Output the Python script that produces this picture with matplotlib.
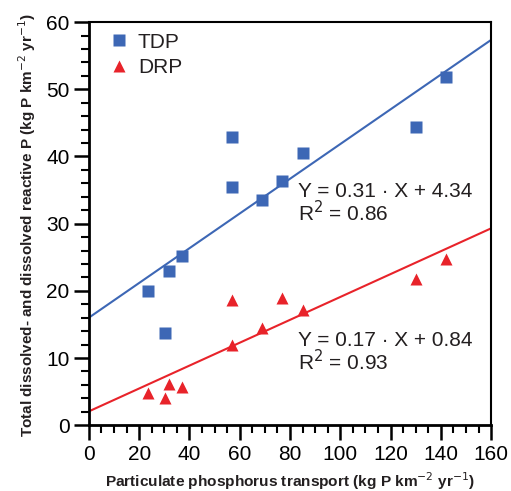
import numpy as np
import matplotlib.pyplot as plt

plt.rcParams['font.family'] = ['Liberation Sans', 'DejaVu Sans']

# Particulate P transport per site (x) and dissolved fractions (y)
particulate_p = [23.4, 30.2, 31.8, 36.9, 56.8, 56.8, 68.7, 76.7, 85.0, 130.1, 142.1]
tdp = [20.0, 13.7, 23.0, 25.2, 42.9, 35.5, 33.5, 36.3, 40.5, 44.4, 51.9]
drp = [4.8, 4.0, 6.2, 5.7, 11.9, 18.7, 14.5, 19.0, 17.2, 21.7, 24.7]

tdp_eq = 'Y = 0.31 \u00b7 X + 4.34'
tdp_r2 = 'R$^2$ = 0.86'
drp_eq = 'Y = 0.17 \u00b7 X + 0.84'
drp_r2 = 'R$^2$ = 0.93'

blue = '#3d67b5'
red = '#e8232a'
txt = '#231f20'

fig = plt.figure(figsize=(5.11, 4.91), dpi=100)
ax = fig.add_axes([0.174, 0.134, 0.787, 0.821])

ax.plot(particulate_p, tdp, 's', color=blue, ms=8.5, mec='none', label='TDP', zorder=3)
ax.plot(particulate_p, drp, '^', color=red, ms=9, mec='none', label='DRP', zorder=3)

# least-squares lines across the full x range
xx = np.array([0, 160])
for y, c in [(tdp, blue), (drp, red)]:
    k, b = np.polyfit(particulate_p, y, 1)
    ax.plot(xx, k * xx + b, color=c, lw=1.5, zorder=2, clip_on=True)

ax.text(83.2, 33.9, tdp_eq, fontsize=15, color=txt)
ax.text(83.2, 30.3, tdp_r2, fontsize=15, color=txt)
ax.text(83.2, 11.8, drp_eq, fontsize=15, color=txt)
ax.text(83.2, 8.2, drp_r2, fontsize=15, color=txt)

ax.set_xlim(0, 160)
ax.set_ylim(0, 60)
ax.set_xticks(np.arange(0, 161, 20))
ax.set_xticks(np.arange(0, 161, 5), minor=True)
ax.set_yticks(np.arange(0, 61, 10))
ax.set_yticks(np.arange(0, 61, 2), minor=True)
ax.tick_params(which='major', direction='out', length=11, width=1.8, labelsize=15, pad=3)
ax.tick_params(which='minor', direction='out', length=6, width=1.5)
for s in ['left', 'bottom']:
    ax.spines[s].set_linewidth(2)
for s in ['top', 'right']:
    ax.spines[s].set_linewidth(1.5)

leg = ax.legend(loc='upper left', bbox_to_anchor=(0.008, 1.01), frameon=False,
                fontsize=15, handletextpad=0.3, labelspacing=0.3,
                handlelength=1.2, borderaxespad=0.3)
for t in leg.get_texts():
    t.set_color(txt)

fig.text(0.567, 0.009, 'Particulate phosphorus transport (kg P km$^{-2}$ yr$^{-1}$)',
         ha='center', va='baseline', fontsize=11.1, fontweight='bold', color=txt)
fig.text(0.053, 0.542, 'Total dissolved- and dissolved reactive P (kg P km$^{-2}$ yr$^{-1}$)',
         ha='center', va='center', rotation=90, fontsize=11.0, fontweight='bold', color=txt)

fig.savefig('out.png', dpi=100)
